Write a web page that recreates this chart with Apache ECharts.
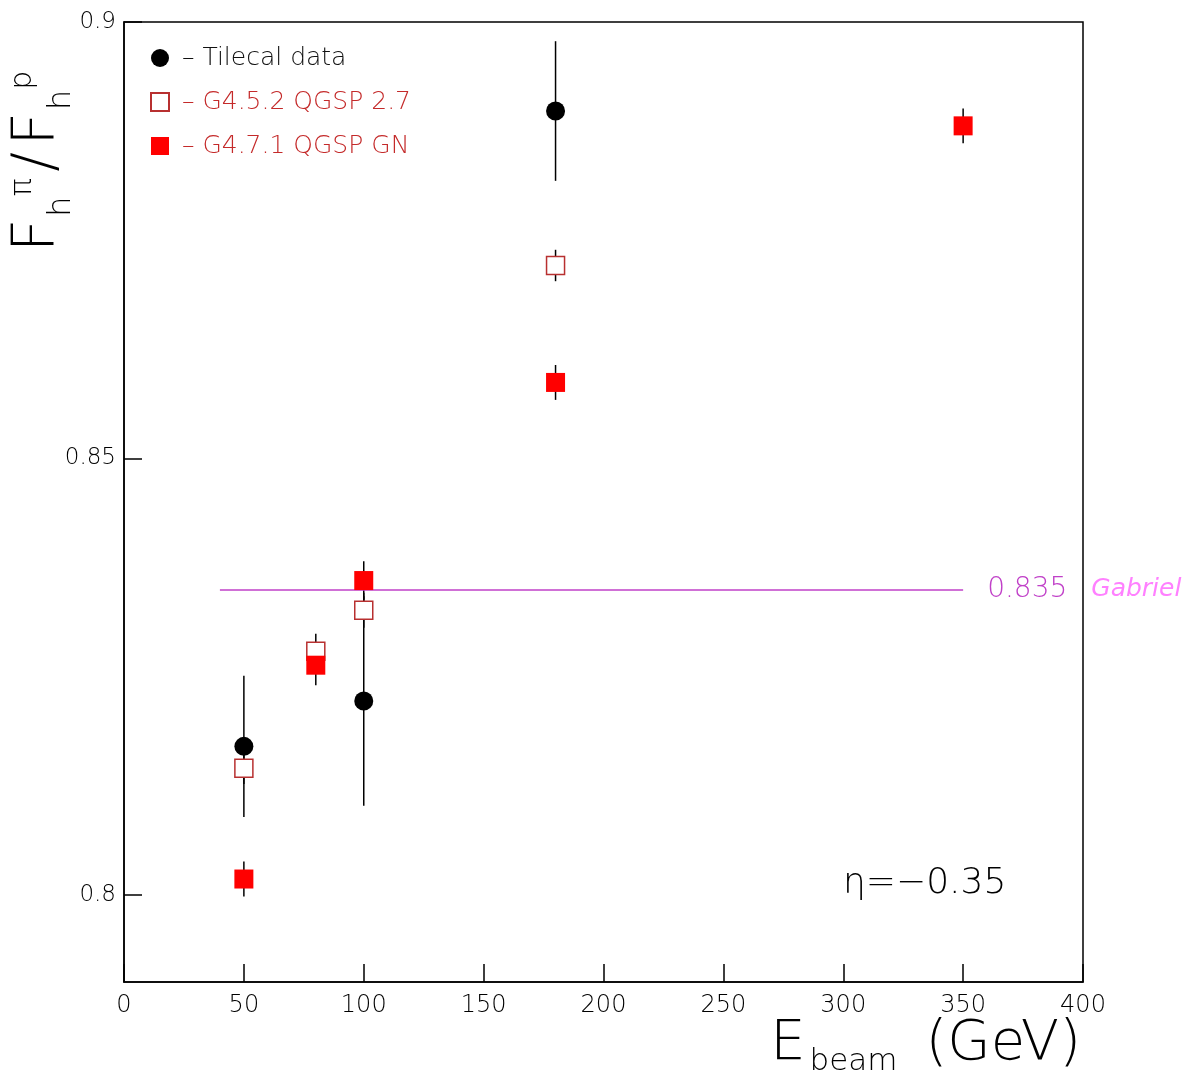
<!DOCTYPE html>
<html lang="en">
<head>
    <meta charset="UTF-8">
    <title>Fh pi / Fh p</title>
    <style>
        body { margin: 0; padding: 0; background: #fff; }
        #main { width: 1189px; height: 1075px; }
    </style>
    <script src="https://cdn.jsdelivr.net/npm/echarts@6/dist/echarts.min.js"></script>
</head>
<body>
<div id="main"></div>
<script>
    var chart = echarts.init(document.getElementById('main'));

    // Tilecal data
    var dataE = [50, 100, 180];
    var dataVal = [0.817, 0.8222, 0.8898];
    var dataErr = [0.0081, 0.012, 0.008];
    // G4.5.2 QGSP 2.7
    var g452E = [50, 80, 100, 180];
    var g452Val = [0.8145, 0.8279, 0.8326, 0.8721];
    var g452Err = [0.0018, 0.002, 0.002, 0.0018];
    // G4.7.1 QGSP GN
    var g471E = [50, 80, 100, 180, 350];
    var g471Val = [0.8018, 0.8263, 0.836, 0.8587, 0.8881];
    var g471Err = [0.002, 0.0023, 0.0022, 0.002, 0.002];

    var xTicks = [0, 50, 100, 150, 200, 250, 300, 350, 400];
    var yTicks = [0.8, 0.85, 0.9];
    var gabrielVal = 0.835;
    var gabrielRange = [40, 350];

    var font = 'DejaVu Sans';
    var thin = 200;

    function pts(xs, ys, es) {
        var res = [];
        for (var i = 0; i < xs.length; i++) {
            res.push([xs[i], ys[i], es[i]]);
        }
        return res;
    }

    // vertical error bars, drawn under the markers
    function errSeries(d) {
        return {
            type: 'custom',
            data: d,
            silent: true,
            z: 1,
            renderItem: function (params, api) {
                var x = api.value(0), y = api.value(1), e = api.value(2);
                var top = api.coord([x, y + e]);
                var bot = api.coord([x, y - e]);
                return {
                    type: 'line',
                    shape: { x1: top[0], y1: top[1], x2: bot[0], y2: bot[1] },
                    style: { stroke: '#000', lineWidth: 1.5 }
                };
            }
        };
    }

    var option = {
        animation: false,
        grid: {
            left: 124, right: 106, top: 22, bottom: 93,
            show: true, borderColor: '#000', borderWidth: 1.5
        },
        legend: {
            orient: 'vertical',
            left: 145, top: 40,
            itemWidth: 18, itemHeight: 18, itemGap: 18,
            formatter: ' – {name}',
            textStyle: { fontFamily: font, fontWeight: thin, fontSize: 25, lineHeight: 26 },
            data: [
                { name: 'Tilecal data', icon: 'circle', textStyle: { color: '#111' } },
                { name: 'G4.5.2 QGSP 2.7', icon: 'rect', textStyle: { color: '#c42a2a' } },
                { name: 'G4.7.1 QGSP GN', icon: 'rect', textStyle: { color: '#c42a2a' } }
            ]
        },
        xAxis: {
            type: 'value', min: 0, max: 400, interval: 50,
            axisLine: { lineStyle: { color: '#000', width: 1.5 } },
            axisTick: { inside: true, length: 18, lineStyle: { color: '#000', width: 1.5 } },
            axisLabel: { color: '#000', fontFamily: font, fontWeight: thin, fontSize: 24, margin: 12,
                customValues: xTicks },
            splitLine: { show: false }
        },
        yAxis: {
            type: 'value', min: 0.79, max: 0.9,
            axisLine: { lineStyle: { color: '#000', width: 1.5 } },
            axisTick: { inside: true, length: 18, lineStyle: { color: '#000', width: 1.5 },
                customValues: yTicks },
            axisLabel: { color: '#000', fontFamily: font, fontWeight: thin, fontSize: 23, margin: 8,
                customValues: yTicks, formatter: function (v) { return String(+v.toFixed(3)); } },
            splitLine: { show: false }
        },
        graphic: [
            {
                type: 'text', x: 68, y: 252,
                rotation: Math.PI / 2,
                style: {
                    text: '{b|F}{s|h}{p|π}  {b|/}  {b|F}{s|h}{p|p}',
                    fill: '#000',
                    textAlign: 'left', textVerticalAlign: 'bottom',
                    rich: {
                        b: { fontFamily: font, fontWeight: thin, fontSize: 58, lineHeight: 58, verticalAlign: 'bottom' },
                        s: { fontFamily: font, fontWeight: thin, fontSize: 32, verticalAlign: 'bottom', padding: [0, 0, -10, 2] },
                        p: { fontFamily: font, fontWeight: thin, fontSize: 30, verticalAlign: 'top', padding: [0, 0, 30, 0] }
                    }
                }
            },
            {
                type: 'text', right: 108, top: 1016,
                style: {
                    text: '{b|E}{s|beam}{g|(GeV)}',
                    fill: '#000',
                    rich: {
                        b: { fontFamily: font, fontWeight: thin, fontSize: 56, verticalAlign: 'top' },
                        g: { fontFamily: font, fontWeight: thin, fontSize: 56, verticalAlign: 'top', padding: [0, 0, 0, 28] },
                        s: { fontFamily: font, fontWeight: thin, fontSize: 31, verticalAlign: 'bottom', padding: [30, 0, 0, 4] }
                    }
                }
            },
            {
                type: 'text', left: 843, top: 866,
                style: {
                    text: 'η=−0.35', fill: '#000',
                    font: '200 36px "DejaVu Sans"'
                }
            }
        ],
        series: [
            errSeries(pts(dataE, dataVal, dataErr)),
            {
                type: 'scatter', name: 'Tilecal data', z: 3,
                symbol: 'circle', symbolSize: 19,
                itemStyle: { color: '#000', opacity: 1 },
                data: pts(dataE, dataVal, dataErr)
            },
            errSeries(pts(g452E, g452Val, g452Err)),
            {
                type: 'scatter', name: 'G4.5.2 QGSP 2.7', z: 4,
                symbol: 'rect', symbolSize: 18,
                itemStyle: { color: '#fff', borderColor: '#b83030', borderWidth: 1.5, opacity: 1 },
                data: pts(g452E, g452Val, g452Err)
            },
            errSeries(pts(g471E, g471Val, g471Err)),
            {
                type: 'scatter', name: 'G4.7.1 QGSP GN', z: 5,
                symbol: 'rect', symbolSize: 19,
                itemStyle: { color: '#ff0000', opacity: 1 },
                data: pts(g471E, g471Val, g471Err),
                markLine: {
                    silent: true, symbol: 'none',
                    lineStyle: { color: '#c040c8', width: 1.5, type: 'solid' },
                    label: {
                        position: 'end', distance: 24,
                        formatter: '{a|' + gabrielVal + '}{b|Gabriel}',
                        rich: {
                            a: { color: '#c040c8', fontFamily: font, fontWeight: thin, fontSize: 28, padding: [0, 24, 0, 0] },
                            b: { color: '#ff80ff', fontFamily: font, fontSize: 25, fontStyle: 'italic' }
                        }
                    },
                    data: [[
                        { coord: [gabrielRange[0], gabrielVal] },
                        { coord: [gabrielRange[1], gabrielVal] }
                    ]]
                }
            }
        ]
    };
    chart.setOption(option);
    window.onresize = chart.resize;
</script>
</body>
</html>
